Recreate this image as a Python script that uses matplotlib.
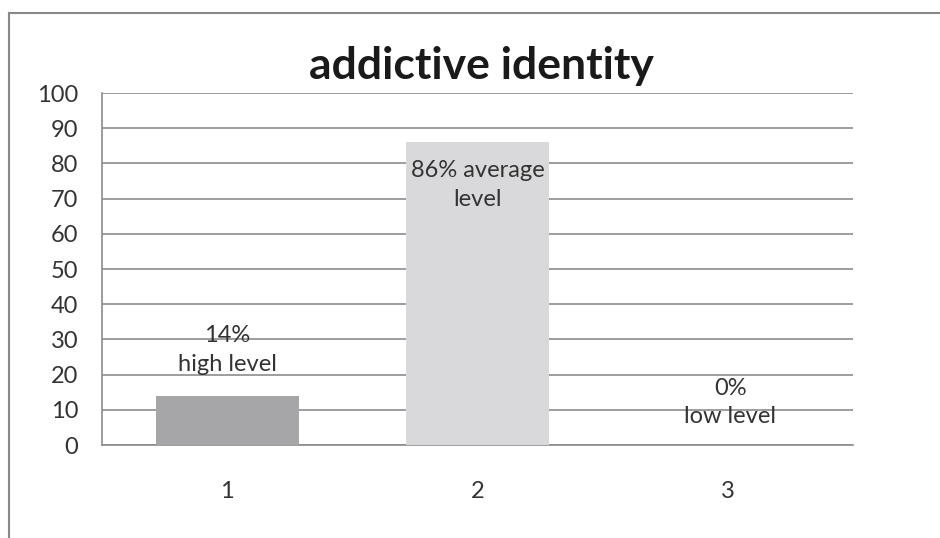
import matplotlib
matplotlib.use("Agg")
import matplotlib.pyplot as plt
from matplotlib.lines import Line2D

categories = ["1", "2", "3"]
values = [14, 86, 0]
bar_labels = ["14%\nhigh level", "86% average\nlevel", "0%\nlow level"]
title = "addictive identity"
yticks = list(range(0, 101, 10))

plt.rcParams["font.family"] = ["Lato", "DejaVu Sans"]

fig = plt.figure(figsize=(9.4, 5.38), dpi=100)
W, H = 940, 538
ax = fig.add_axes([102 / W, 1 - 445 / H, (853 - 102) / W, (445 - 93) / H])

x = range(len(categories))
colors = ["#a6a6a8", "#d9d9db", "#a6a6a8"]
ax.bar(x, values, width=0.57, color=colors, zorder=3)

ax.set_xlim(-0.5, 2.5)
ax.set_ylim(0, 100)
ax.set_yticks(yticks)
ax.set_xticks(list(x))
ax.set_xticklabels(categories)
ax.yaxis.grid(True, color="#8c8c8c", linewidth=1.2, zorder=0)
for side in ["top", "right"]:
    ax.spines[side].set_visible(False)
ax.spines["left"].set_color("#8c8c8c")
ax.spines["bottom"].set_color("#8c8c8c")
ax.spines["left"].set_linewidth(1.2)
ax.spines["bottom"].set_linewidth(1.2)
ax.tick_params(axis="both", length=0, labelsize=17, colors="#333333")
ax.tick_params(axis="y", pad=17)
ax.tick_params(axis="x", pad=26)

# value labels
lbl = dict(ha="center", fontsize=17, color="#333333", linespacing=1.45)
ax.text(0, 20, bar_labels[0], va="bottom", **lbl)
ax.text(1, 81, bar_labels[1], va="top", **lbl)
ax.text(2.01, 5, bar_labels[2], va="bottom", **lbl)

fig.text(481 / W, 1 - 66 / H, title, ha="center", va="center",
         fontsize=32, fontweight="bold", color="#1a1a1a")

# outer frame: top and left edges
fig.add_artist(Line2D([9 / W, 1.0], [1 - 13 / H, 1 - 13 / H],
                      transform=fig.transFigure, color="#888888", linewidth=1.5))
fig.add_artist(Line2D([9 / W, 9 / W], [0.0, 1 - 13 / H],
                      transform=fig.transFigure, color="#888888", linewidth=1.5))

fig.savefig("out.png", dpi=100)
